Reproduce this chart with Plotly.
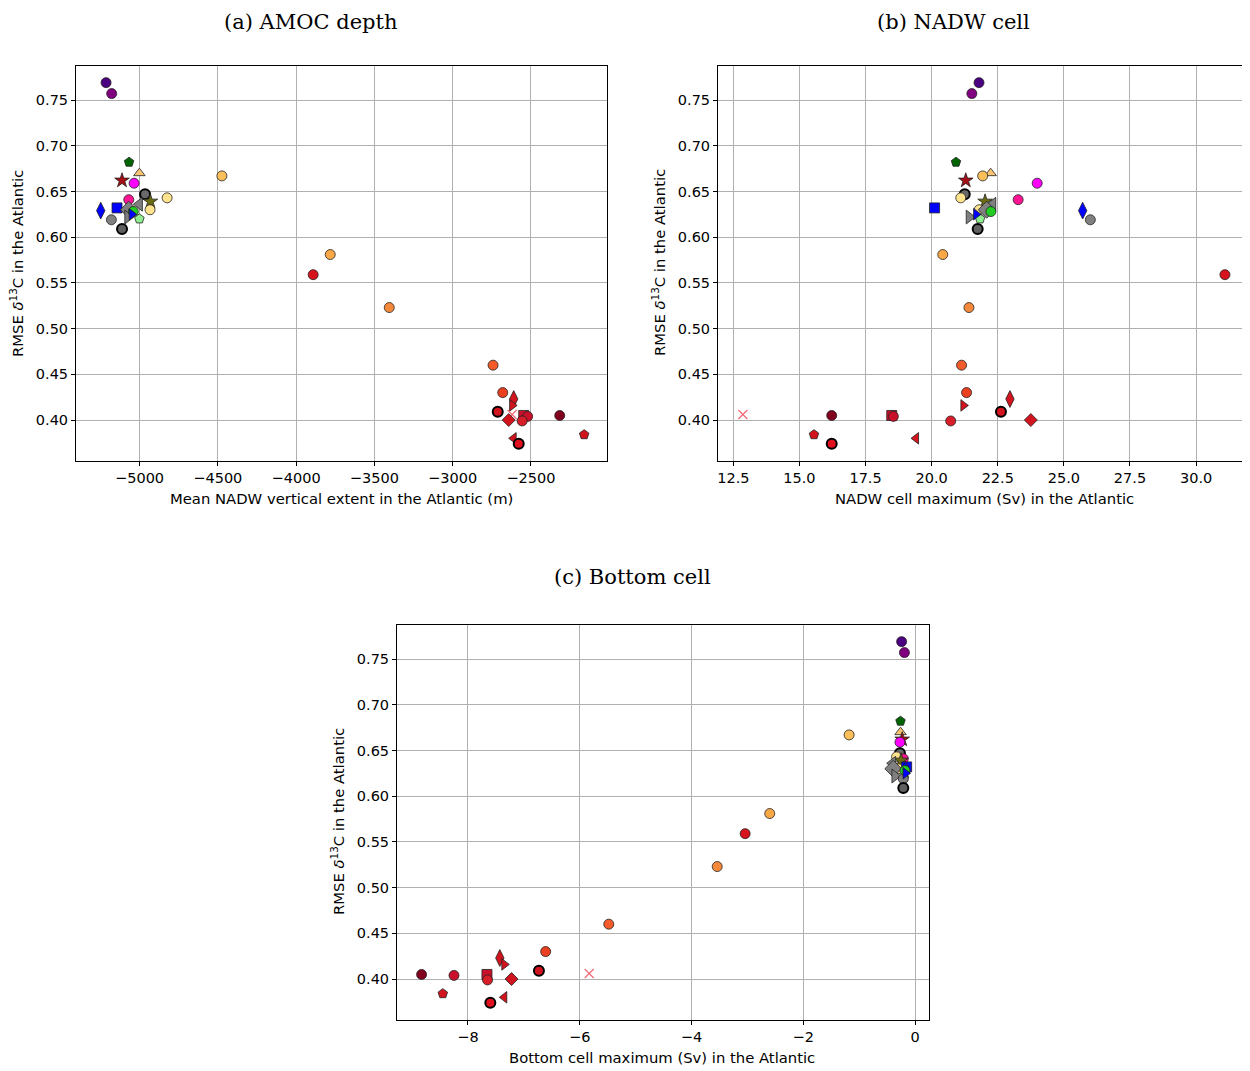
import plotly.graph_objects as go

# ---- data (one entry per model) ----
rmse = [0.769, 0.757, 0.682, 0.670, 0.662, 0.659, 0.667, 0.647, 0.641, 0.643,
        0.639, 0.636, 0.630, 0.632, 0.629, 0.630, 0.622, 0.620, 0.619, 0.609,
        0.628, 0.625, 0.581, 0.559, 0.523, 0.460, 0.430, 0.423, 0.416, 0.409,
        0.406, 0.405, 0.404, 0.405, 0.400, 0.399, 0.380, 0.374, 0.384]

amoc_depth = [-5214, -5178, -5067, -5001, -5112, -5035, -4474, -4965, -5069, -4824,
              -4931, -5001, -4933, -5144, -5248, -5069, -5075, -5001, -5180, -5112,
              -5040, -5050, -3782, -3891, -3405, -2742, -2680, -2610, -2620, -2712,
              -2620, -2546, -2521, -2316, -2642, -2556, -2610, -2578, -2160]

nadw_max = [21.79, 21.52, 20.92, 22.23, 21.29, 23.99, 21.93, 21.25, 23.27, 21.10,
            22.02, 22.31, 21.80, 20.11, 25.71, 22.08, 21.42, 21.83, 26.00, 21.74,
            22.24, 21.68, 20.42, 31.09, 21.41, 21.13, 21.32, 22.96, 21.20, 22.62,
            12.86, 18.49, 18.55, 16.22, 23.75, 20.72, 19.41, 16.22, 15.55]

bottom_max = [-0.24, -0.19, -0.26, -0.26, -0.23, -0.27, -1.18, -0.27, -0.21, -0.33,
              -0.25, -0.40, -0.30, -0.15, -0.17, -0.39, -0.36, -0.20, -0.21, -0.21,
              -0.18, -0.17, -2.60, -3.04, -3.54, -5.48, -6.61, -7.43, -7.35, -6.73,
              -5.83, -7.66, -8.25, -8.83, -7.22, -7.65, -7.35, -7.60, -8.45]

# ---- styles (one entry per model) ----
symbols = ["circle", "circle", "pentagon", "triangle-up", "star", "circle", "circle", "circle",
           "circle", "circle", "star", "triangle-left", "circle", "square", "diamond-tall",
           "diamond", "triangle-right", "pentagon", "circle", "circle", "circle",
           "triangle-right", "circle", "circle", "circle", "circle", "circle", "diamond-tall",
           "triangle-right", "circle", "x-thin", "square", "circle", "circle", "diamond",
           "circle", "triangle-left", "circle", "pentagon"]

colors = ["#4B0082", "#800080", "#006400", "#F8C471", "#A50F15", "#FF00FF", "#FBBF5A",
          "#696969", "#FF1493", "#FFE38F", "#6B6B10", "#808080", "#FFE38F", "#0000FF",
          "#0000FF", "#808080", "#808080", "#90EE90", "#808080", "#5F5F5F", "#22CC22",
          "#0000FF", "#F9A848", "#D7141E", "#F4893B", "#F45B2A", "#EA4020", "#D2141E",
          "#D2141E", "#D2141E", "#F26A76", "#C8102A", "#C8102A", "#80001E", "#D2141E",
          "#D71E28", "#D2141E", "#E0101E", "#D2141E"]

thick = {7, 19, 29, 37}
sizes, lwidths, lcolors = [], [], []
for i, s in enumerate(symbols):
    if s in ("triangle-left", "triangle-right") and colors[i] == "#808080":
        sizes.append(12)
    elif s == "diamond" and colors[i] == "#808080":
        sizes.append(13)
    elif s == "star":
        sizes.append(11)
    elif s == "diamond-tall":
        sizes.append(12)
    elif s == "x-thin":
        sizes.append(9)
    else:
        sizes.append(10)
    if s == "x-thin":
        lwidths.append(1.2)
        lcolors.append(colors[i])
    elif i in thick:
        lwidths.append(2)
        lcolors.append("#000000")
    else:
        lwidths.append(0.8)
        lcolors.append("#222222")

fig = go.Figure()

panels = [(amoc_depth, "x", "y"), (nadw_max, "x2", "y2"), (bottom_max, "x3", "y3")]
for xs, xa, ya in panels:
    fig.add_trace(go.Scatter(
        x=xs, y=rmse, mode="markers", xaxis=xa, yaxis=ya, showlegend=False,
        marker=dict(symbol=symbols, color=colors, size=sizes, opacity=1,
                    line=dict(width=lwidths, color=lcolors)),
        hoverinfo="x+y"))

tickfont = dict(family="DejaVu Sans", size=14.5, color="black")
common = dict(showgrid=True, gridcolor="#b0b0b0", gridwidth=0.8, zeroline=False,
              showline=True, linecolor="black", linewidth=1, mirror=True,
              ticks="outside", ticklen=4, tickcolor="black", tickfont=tickfont)

yr = [0.3552, 0.7872]
yt = [0.40, 0.45, 0.50, 0.55, 0.60, 0.65, 0.70, 0.75]
fig.update_layout(
    width=1242, height=1063, margin=dict(l=0, r=0, t=0, b=0),
    plot_bgcolor="white", paper_bgcolor="white",
    xaxis=dict(domain=[0.05475, 0.48229], range=[-5406, -2014], tickvals=[-5000, -4500, -4000, -3500, -3000, -2500], anchor="y", **common),
    yaxis=dict(domain=[0.57385, 0.94544], range=yr, tickvals=yt, tickformat=".2f", anchor="x", **common),
    xaxis2=dict(domain=[0.57166, 0.99919], range=[11.92, 32.0], tickvals=[12.5, 15, 17.5, 20, 22.5, 25, 27.5, 30], tickformat=".1f", anchor="y2", **common),
    yaxis2=dict(domain=[0.57385, 0.94544], range=yr, tickvals=yt, tickformat=".2f", anchor="x2", **common),
    xaxis3=dict(domain=[0.31320, 0.74155], range=[-9.27, 0.25], tickvals=[-8, -6, -4, -2, 0], anchor="y3", **common),
    yaxis3=dict(domain=[0.04798, 0.41957], range=yr, tickvals=yt, tickformat=".2f", anchor="x3", **common),
)

labfont = dict(family="DejaVu Sans", size=14.8, color="black")
titlefont = dict(family="DejaVu Serif", size=21, color="black")
ylab = "RMSE <i>δ</i><sup>13</sup>C in the Atlantic"
ann = [
    dict(text="(a) AMOC depth", x=0.24396, y=1.0, yanchor="top", font=titlefont),
    dict(text="(b) NADW cell", x=0.76167, y=1.0, yanchor="top", font=titlefont),
    dict(text="(c) Bottom cell", x=0.50322, y=0.46472, yanchor="middle", font=titlefont),
    dict(text="Mean NADW vertical extent in the Atlantic (m)", x=0.26892, y=0.5381, yanchor="middle", font=labfont),
    dict(text="NADW cell maximum (Sv) in the Atlantic", x=0.78583, y=0.5381, yanchor="middle", font=labfont),
    dict(text="Bottom cell maximum (Sv) in the Atlantic", x=0.52657, y=0.01223, yanchor="middle", font=labfont),
    dict(text=ylab, x=0.00644, y=0.76011, yanchor="middle", textangle=-90, font=labfont),
    dict(text=ylab, x=0.52335, y=0.76011, yanchor="middle", textangle=-90, font=labfont),
    dict(text=ylab, x=0.2649, y=0.23424, yanchor="middle", textangle=-90, font=labfont),
]
for a in ann:
    fig.add_annotation(xref="paper", yref="paper", showarrow=False,
                       xanchor="center", **a)

fig.write_html("out.html")
